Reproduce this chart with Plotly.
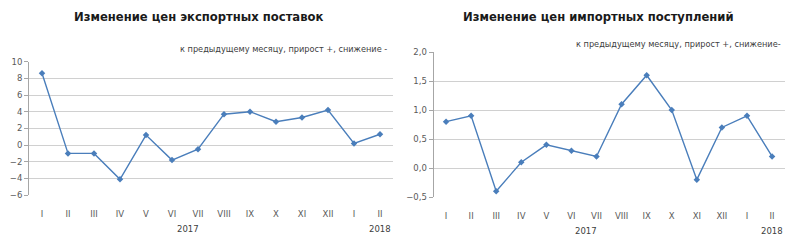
import plotly.graph_objects as go

months = ["I", "II", "III", "IV", "V", "VI", "VII", "VIII", "IX", "X", "XI", "XII", "I", "II"]
years = ["2017", "2018"]
export_vals = [8.6, -1.0, -1.0, -4.1, 1.2, -1.8, -0.5, 3.7, 4.0, 2.8, 3.3, 4.2, 0.2, 1.3]
import_vals = [0.8, 0.9, -0.4, 0.1, 0.4, 0.3, 0.2, 1.1, 1.6, 1.0, -0.2, 0.7, 0.9, 0.2]
title_left = "Изменение цен экспортных поставок"
title_right = "Изменение цен импортных поступлений"
sub_left = "к предыдущему месяцу, прирост +, снижение -"
sub_right = "к предыдущему месяцу, прирост +, снижение-"

W, H = 800, 251
idx = list(range(len(months)))
bounds = [i - 0.5 for i in range(len(months) + 1)]
xr = [-0.5, len(months) - 0.5]

LINE = "#4A7EBB"
GRID = "#D0D0D0"
AX = "#A6A6A6"
TXT = "#595959"
FONT = "DejaVu Sans"

def py(px):
    return 1 - px / H

left_dom_x = [29 / W, 393 / W]
left_dom_y = [py(198), py(59)]
right_dom_x = [433.5 / W, 784.6 / W]
right_dom_y = [py(200), py(49)]
left_range = [-6, 10]
right_range = [-0.5, 2.0]

def zero_pos(dom, rng):
    return dom[0] + (0 - rng[0]) / (rng[1] - rng[0]) * (dom[1] - dom[0])

fig = go.Figure()
fig.add_trace(go.Scatter(x=idx, y=export_vals, mode="lines+markers", xaxis="x", yaxis="y",
                         line=dict(color=LINE, width=1.4),
                         marker=dict(symbol="diamond", size=5, color=LINE), hoverinfo="skip"))
fig.add_trace(go.Scatter(x=idx, y=import_vals, mode="lines+markers", xaxis="x2", yaxis="y2",
                         line=dict(color=LINE, width=1.4),
                         marker=dict(symbol="diamond", size=5, color=LINE), hoverinfo="skip"))

tickfont = dict(family=FONT, size=8.5, color=TXT)

common_x = dict(range=xr, tickmode="array", tickvals=idx, ticktext=months, showline=False,
                ticks="", showgrid=False, zeroline=False, tickfont=tickfont,
                ticklabelstandoff=12, fixedrange=True)
zero_x = dict(range=xr, tickmode="array", tickvals=bounds, showticklabels=False,
              showline=True, linecolor="#8C8C8C", linewidth=1, ticks="outside", ticklen=4,
              tickcolor="#8C8C8C", showgrid=False, zeroline=False, layer="below traces")
common_y = dict(showline=True, linecolor=AX, linewidth=1, ticks="outside", ticklen=4,
                tickcolor=AX, gridcolor=GRID, gridwidth=1, zeroline=False, tickfont=tickfont,
                fixedrange=True, layer="below traces")

fig.update_layout(
    width=W, height=H, margin=dict(l=0, r=0, t=0, b=0),
    paper_bgcolor="white", plot_bgcolor="white", showlegend=False,
    separators=", ",
    xaxis=dict(domain=left_dom_x, anchor="y", **common_x),
    yaxis=dict(domain=left_dom_y, anchor="x", range=left_range, dtick=2, tickformat="d", **common_y),
    xaxis2=dict(domain=right_dom_x, anchor="y2", **common_x),
    yaxis2=dict(domain=right_dom_y, anchor="x2", range=right_range, dtick=0.5, tickformat=".1f", **common_y),
    xaxis3=dict(domain=left_dom_x, overlaying="x", anchor="free",
                position=zero_pos(left_dom_y, left_range), **zero_x),
    xaxis4=dict(domain=right_dom_x, overlaying="x2", anchor="free",
                position=zero_pos(right_dom_y, right_range), **zero_x),
)

ann = []
ann.append(dict(text="<b>" + title_left + "</b>", x=198 / W, y=py(13), xref="paper", yref="paper",
                showarrow=False, xanchor="center", yanchor="middle",
                font=dict(family=FONT, size=11.6, color="#1A1A1A")))
ann.append(dict(text="<b>" + title_right + "</b>", x=598.5 / W, y=py(13), xref="paper", yref="paper",
                showarrow=False, xanchor="center", yanchor="middle",
                font=dict(family=FONT, size=11.6, color="#1A1A1A")))
ann.append(dict(text=sub_left, x=389 / W, y=py(46), xref="paper", yref="paper",
                showarrow=False, xanchor="right", yanchor="middle",
                font=dict(family=FONT, size=8.2, color="#404040")))
ann.append(dict(text=sub_right, x=783 / W, y=py(41), xref="paper", yref="paper",
                showarrow=False, xanchor="right", yanchor="middle",
                font=dict(family=FONT, size=8.2, color="#404040")))
for xref, ypx in (("x", 233), ("x2", 235)):
    ann.append(dict(text=years[0], x=5.6, y=py(ypx), xref=xref, yref="paper", showarrow=False,
                    xanchor="center", yanchor="middle", font=dict(family=FONT, size=8.5, color="#404040")))
    ann.append(dict(text=years[1], x=13, y=py(ypx), xref=xref, yref="paper", showarrow=False,
                    xanchor="center", yanchor="middle", font=dict(family=FONT, size=8.5, color="#404040")))
fig.update_layout(annotations=ann)

fig.write_html("out.html", config={"displayModeBar": False})
